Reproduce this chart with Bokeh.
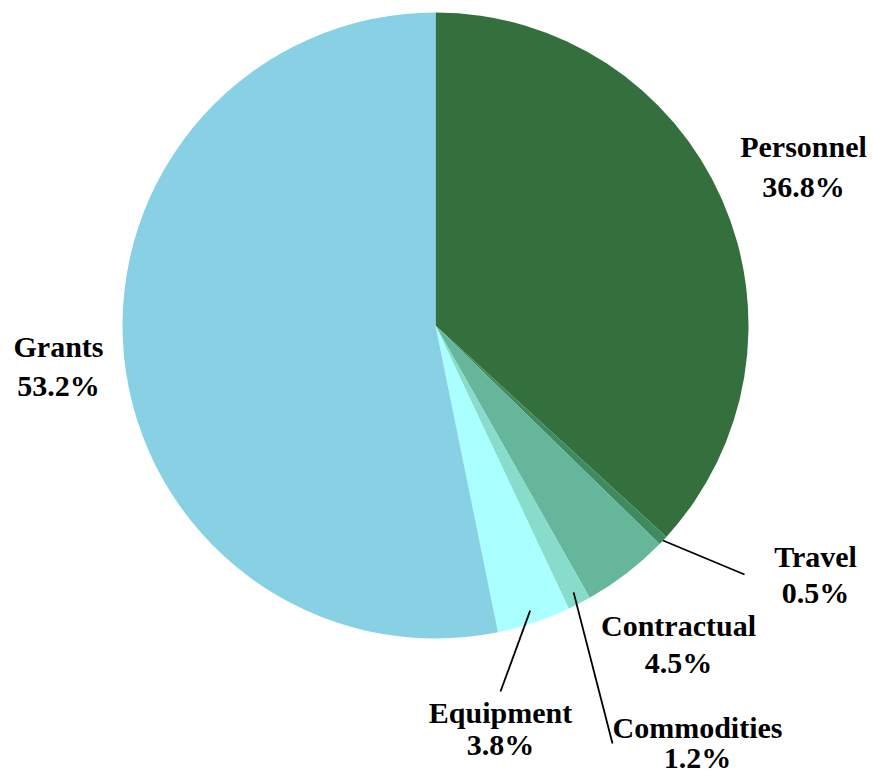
import math
from bokeh.plotting import figure
from bokeh.models import Range1d, ColumnDataSource
from bokeh.core.properties import value
from bokeh.embed import file_html
from bokeh.resources import INLINE

# Budget shares (percent), drawn clockwise from 12 o'clock
categories = ["Personnel", "Travel", "Contractual", "Commodities", "Equipment", "Grants"]
shares = [36.8, 0.5, 4.5, 1.2, 3.8, 53.2]
colors = ["#33703d", "#3d8b5e", "#66b69c", "#88dccc", "#aaffff", "#88d0e4"]

W, H = 873, 773
CX, CY, R = 435, H - 325, 313

# label placement (screen px: name centre, percent centre)
label_pos = {
    "Personnel":   ((803, 146), (803, 186)),
    "Travel":      ((815, 556), (815, 592)),
    "Contractual": ((678, 625), (678, 662)),
    "Commodities": ((697, 727), (697, 757)),
    "Equipment":   ((500, 712), (500, 744)),
    "Grants":      ((58, 346), (58, 385)),
}
# leader lines: (radius factor at slice middle, end point in screen px)
leaders = {
    "Travel":      (1.0, (744, 574)),
    "Commodities": (0.96, (612, 743)),
    "Equipment":   (0.96, (500, 691)),
}

total = sum(shares)
starts, ends, mids = [], [], []
cum = 0.0
for s in shares:
    a0 = math.pi / 2 - 2 * math.pi * cum / total
    cum += s
    a1 = math.pi / 2 - 2 * math.pi * cum / total
    starts.append(a1)
    ends.append(a0)
    mids.append((a0 + a1) / 2)

p = figure(width=W, height=H, output_backend="svg", toolbar_location=None,
           x_range=Range1d(0, W), y_range=Range1d(0, H), min_border=0)
p.axis.visible = False
p.grid.visible = False
p.outline_line_color = None
p.background_fill_color = "white"
p.border_fill_color = "white"

src = ColumnDataSource(dict(start=starts, end=ends, color=colors))
p.wedge(x=CX, y=CY, radius=R, start_angle="start", end_angle="end",
        fill_color="color", line_color=None, source=src)

# leader lines
for name, (rf, (ex, ey)) in leaders.items():
    i = categories.index(name)
    a = mids[i]
    sx = CX + rf * R * math.cos(a)
    sy = CY + rf * R * math.sin(a)
    p.line([sx, ex], [sy, H - ey], line_color="black", line_width=1.8)

# labels
nx, ny, txt = [], [], []
for name, s in zip(categories, shares):
    (ax, ay), (bx, by) = label_pos[name]
    nx += [ax, bx]
    ny += [H - ay, H - by]
    txt += [name, f"{s:.1f}%"]
p.text(x=nx, y=ny, text=txt, text_align="center", text_baseline="middle",
       text_font=value("Liberation Serif"), text_font_style="bold",
       text_font_size="30px", text_color="black")

open("out.html", "w").write(file_html(p, INLINE))
